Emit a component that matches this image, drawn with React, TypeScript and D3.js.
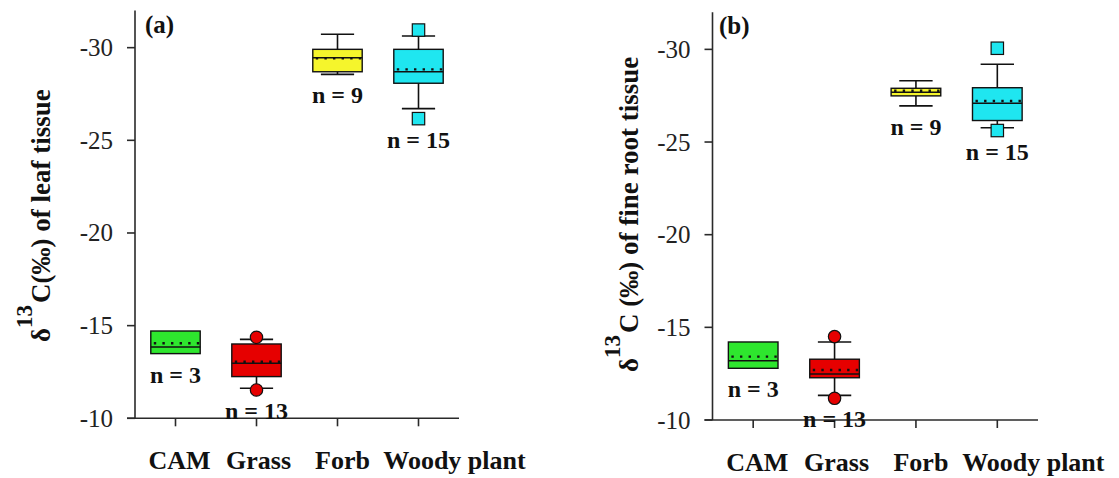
import React from "react";
import * as d3 from "d3";

// Plant functional groups and sample sizes
const categories = ["CAM", "Grass", "Forb", "Woody plant"];
const sampleSizes = [3, 13, 9, 15];
const boxColors = ["#2ee62e", "#e60000", "#f5f52c", "#1fe6f0"];
const outlierShapes = ["circle", "circle", "square", "square"];
const yTicks = [-30, -25, -20, -15, -10];

// δ13C of leaf tissue (‰)
const leafQ1 = [-13.49, -12.25, -28.7, -28.08];
const leafQ3 = [-14.71, -14.01, -29.91, -29.91];
const leafMedian = [-13.85, -12.97, -29.45, -28.7];
const leafMean = [-14.05, -13.05, -29.42, -28.83];
const leafWhiskerLow = [null, -11.62, -28.56, -26.71];
const leafWhiskerHigh = [null, -14.26, -30.72, -30.63];
const leafOutliers = [[], [-14.37, -11.53], [], [-30.95, -26.17]];

// δ13C of fine root tissue (‰)
const rootQ1 = [-12.79, -12.28, -27.49, -26.16];
const rootQ3 = [-14.21, -13.28, -27.9, -27.93];
const rootMedian = [-13.2, -12.48, -27.69, -27.09];
const rootMean = [-13.42, -12.7, -27.77, -27.21];
const rootWhiskerLow = [null, -11.33, -26.95, -25.77];
const rootWhiskerHigh = [null, -14.21, -28.31, -29.2];
const rootOutliers = [[], [-14.5, -11.17], [], [-30.06, -25.62]];

const FONT = "Tinos, 'Liberation Serif', 'DejaVu Serif', 'Noto Serif', serif";
const AXIS = "#2a2a2a";
// small horizontal nudges of the category names under their ticks
const catLabelDx = [4, 2, 5, 36];

type PanelProps = {
  tag: string;
  x0: number;
  x1: number;
  yBottom: number;
  yTop: number;
  titleX: number;
  q1: number[];
  q3: number[];
  median: number[];
  mean: number[];
  wLow: (number | null)[];
  wHigh: (number | null)[];
  outliers: number[][];
};

const serif = (size: number, bold: boolean) => ({
  fontFamily: FONT,
  fontSize: `${size}px`,
  fontWeight: bold ? 700 : 400,
});

function Panel(p: PanelProps) {
  const x = d3.scaleBand<string>().domain(categories).range([p.x0, p.x1]);
  const y = d3.scaleLinear().domain([-10, -32]).range([p.yBottom, p.yTop]);
  const bw = x.bandwidth();
  const boxW = bw * 0.61;
  const capW = bw * 0.41;
  const tickLen = 8;

  return (
    <g>
      {/* axes */}
      <line x1={p.x0} x2={p.x0} y1={p.yTop} y2={p.yBottom} stroke={AXIS} strokeWidth={1.6} />
      <line x1={p.x0 - tickLen} x2={p.x1} y1={p.yBottom} y2={p.yBottom} stroke={AXIS} strokeWidth={1.6} />
      {yTicks.map((t) => (
        <g key={t}>
          <line x1={p.x0 - tickLen} x2={p.x0} y1={y(t)} y2={y(t)} stroke={AXIS} strokeWidth={1.6} />
          <text x={p.x0 - 22} y={y(t)} dy="0.34em" textAnchor="end" style={serif(25, false)} fill="#222">
            {t}
          </text>
        </g>
      ))}
      {categories.map((c, i) => {
        const cx = x(c)! + bw / 2;
        return (
          <g key={c}>
            <line x1={cx} x2={cx} y1={p.yBottom} y2={p.yBottom + tickLen} stroke={AXIS} strokeWidth={1.6} />
            <text x={cx + catLabelDx[i]} y={p.yBottom + 51} textAnchor="middle" style={serif(26, true)} fill="#111">
              {c}
            </text>
          </g>
        );
      })}

      {/* boxes */}
      {categories.map((c, i) => {
        const cx = x(c)! + bw / 2;
        const left = cx - boxW / 2;
        const top = y(p.q3[i]);
        const bottom = y(p.q1[i]);
        const wl = p.wLow[i];
        const wh = p.wHigh[i];
        const lowest = Math.max(p.q1[i], wl ?? -99, ...p.outliers[i]);
        return (
          <g key={c}>
            {wh != null && (
              <g stroke="#111" strokeWidth={1.6}>
                <line x1={cx} x2={cx} y1={y(wh)} y2={top} />
                <line x1={cx - capW / 2} x2={cx + capW / 2} y1={y(wh)} y2={y(wh)} />
              </g>
            )}
            {wl != null && (
              <g stroke="#111" strokeWidth={1.6}>
                <line x1={cx} x2={cx} y1={bottom} y2={y(wl)} />
                <line x1={cx - capW / 2} x2={cx + capW / 2} y1={y(wl)} y2={y(wl)} />
              </g>
            )}
            <rect
              x={left}
              y={top}
              width={boxW}
              height={bottom - top}
              fill={boxColors[i]}
              stroke="#111"
              strokeWidth={1.4}
            />
            <line x1={left} x2={left + boxW} y1={y(p.median[i])} y2={y(p.median[i])} stroke="#111" strokeWidth={1.5} />
            <line
              x1={left}
              x2={left + boxW}
              y1={y(p.mean[i])}
              y2={y(p.mean[i])}
              stroke="#111"
              strokeWidth={2.4}
              strokeDasharray="2.4 6.2"
              strokeDashoffset={-3}
            />
            {p.outliers[i].map((v, k) =>
              outlierShapes[i] === "circle" ? (
                <circle key={k} cx={cx} cy={y(v)} r={6.2} fill={boxColors[i]} stroke="#111" strokeWidth={1.2} />
              ) : (
                <rect
                  key={k}
                  x={cx - 6.2}
                  y={y(v) - 6.2}
                  width={12.4}
                  height={12.4}
                  fill={boxColors[i]}
                  stroke="#111"
                  strokeWidth={1.2}
                />
              )
            )}
            <text x={cx} y={y(lowest) + 29} textAnchor="middle" style={serif(24, true)} fill="#111">
              {`n = ${sampleSizes[i]}`}
            </text>
          </g>
        );
      })}

      {/* panel tag */}
      <text x={p.titleX} y={p.yTop + 22} style={serif(25, true)} fill="#111">
        {p.tag}
      </text>
    </g>
  );
}

function YLabel({ bx, by, tail }: { bx: number; by: number; tail: string }) {
  return (
    <text transform={`translate(${bx},${by}) rotate(-90)`} style={serif(27, true)} fill="#111">
      <tspan>δ</tspan>
      <tspan style={{ fontSize: "23px" }} dy={-18}>
        13
      </tspan>
      <tspan dy={18} dx={2}>
        {tail}
      </tspan>
    </text>
  );
}

export default function App() {
  return (
    <svg
      width={1119}
      height={478}
      style={{ position: "fixed", left: 0, top: 0, background: "#fff", display: "block" }}
    >
      <rect width={1119} height={478} fill="#fff" />
      <YLabel bx={50} by={342} tail="C(‰) of leaf tissue" />
      <Panel
        tag="(a)"
        x0={135}
        x1={459}
        yBottom={418.3}
        yTop={10.6}
        titleX={145}
        q1={leafQ1}
        q3={leafQ3}
        median={leafMedian}
        mean={leafMean}
        wLow={leafWhiskerLow}
        wHigh={leafWhiskerHigh}
        outliers={leafOutliers}
      />
      <YLabel bx={638} by={372} tail="C (‰) of fine root tissue" />
      <Panel
        tag="(b)"
        x0={712.5}
        x1={1038}
        yBottom={420}
        yTop={12.3}
        titleX={719}
        q1={rootQ1}
        q3={rootQ3}
        median={rootMedian}
        mean={rootMean}
        wLow={rootWhiskerLow}
        wHigh={rootWhiskerHigh}
        outliers={rootOutliers}
      />
    </svg>
  );
}
